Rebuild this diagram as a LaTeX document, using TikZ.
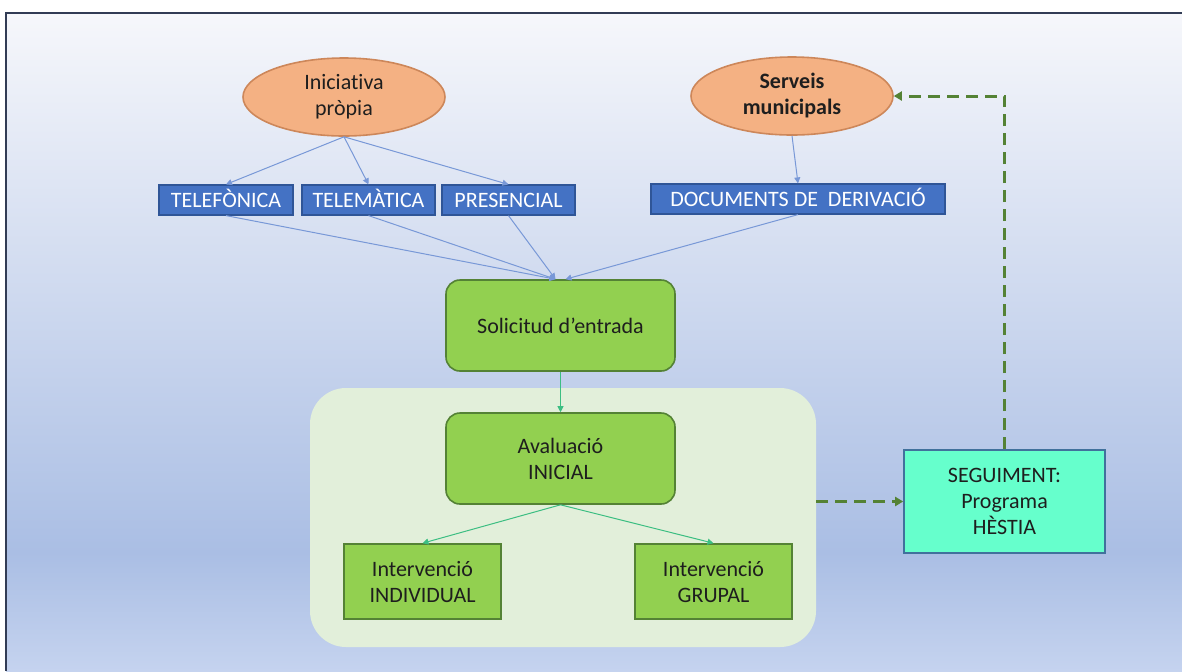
\documentclass[tikz,border=0pt]{standalone}
\usepackage{fontspec}
\setmainfont{Carlito}[Ligatures=NoCommon]
\usetikzlibrary{shapes.geometric,arrows.meta}
\definecolor{peach}{RGB}{244, 177, 131}
\definecolor{peachline}{RGB}{205, 135, 90}
\definecolor{royal}{RGB}{68, 114, 196}
\definecolor{royalline}{RGB}{47, 85, 151}
\definecolor{lime}{RGB}{146, 208, 80}
\definecolor{limeline}{RGB}{84, 130, 53}
\definecolor{mint}{RGB}{102, 255, 204}
\definecolor{mintline}{RGB}{65, 113, 156}
\definecolor{pale}{RGB}{226, 239, 218}
\definecolor{olive}{RGB}{84, 130, 53}
\definecolor{sky}{RGB}{120, 152, 215}
\definecolor{jade}{RGB}{60, 190, 130}
\definecolor{ink}{RGB}{30, 30, 30}
\definecolor{bgtop}{RGB}{246, 247, 251}
\definecolor{bgmid}{RGB}{170, 190, 228}
\definecolor{bgbot}{RGB}{197, 211, 239}
\definecolor{edge}{RGB}{50, 60, 85}
\pgfdeclareverticalshading{backdrop}{100bp}{color(0bp)=(bgbot); color(25bp)=(bgbot); color(34bp)=(bgmid); color(75bp)=(bgtop); color(100bp)=(bgtop)}

\tikzset{
    source/.style   = {ellipse, draw=peachline, fill=peach, thick, text=ink, align=center,
                       minimum width=101pt, minimum height=39pt, inner sep=0pt},
    channel/.style  = {rectangle, draw=royalline, fill=royal, text=white, semithick,
                       minimum height=15pt, inner sep=0pt, text height=7.5pt, text depth=0pt},
    stagebox/.style = {rectangle, rounded corners=7pt, draw=limeline, fill=lime, thick, text=ink,
                       align=center, minimum width=114.5pt, minimum height=45.5pt},
    action/.style   = {rectangle, draw=limeline, fill=lime, thick, text=ink, align=center,
                       minimum width=78.5pt, minimum height=37.5pt},
    followup/.style = {rectangle, draw=mintline, fill=mint, thick, text=ink, align=center,
                       minimum width=100.5pt, minimum height=51.5pt},
    feed/.style     = {-{Triangle[length=3pt, width=3pt]}, sky, line width=0.5pt},
    flow/.style     = {-{Triangle[length=3pt, width=3pt]}, jade, line width=0.5pt},
    backlink/.style = {-{Triangle[length=4pt, width=4.5pt]}, olive, line width=1.5pt,
                       dash pattern=on 6pt off 3.5pt}
}

\begin{document}
\begin{tikzpicture}[x=0.5pt, y=-0.5pt, font=\fontsize{11}{13}\selectfont]
    \useasboundingbox (0, 0) rectangle (1182, 671);
    \fill[white] (0, 0) rectangle (1182, 671);
    \shade[shading=backdrop] (6, 13) rectangle (1182, 671);
    \draw[edge, line width=1pt] (6, 671) -- (6, 13) -- (1182, 13);

    \fill[pale, rounded corners=18pt] (310, 388) rectangle (816, 647);

    \node[source]                         (ini) at ( 344.0,  97.0) {Iniciativa\\pròpia};
    \node[source, font=\fontsize{11}{13}\selectfont\bfseries]
                                          (srv) at ( 792.0,  96.0) {Serveis\\municipals};
    \node[channel, minimum width=67pt]    (tel) at ( 226.0, 200.0) {TELEFÒNICA};
    \node[channel, minimum width=66.5pt]  (tmt) at ( 368.5, 200.0) {TELEMÀTICA};
    \node[channel, minimum width=66.5pt]  (pre) at ( 508.5, 200.0) {PRESENCIAL};
    \node[channel, minimum width=147pt]   (doc) at ( 798.0, 199.0) {DOCUMENTS DE\ \ DERIVACIÓ};
    \node[stagebox]                       (sol) at ( 560.5, 325.5) {Solicitud d’entrada};
    \node[stagebox]                       (ava) at ( 560.5, 458.5) {Avaluació\\INICIAL};
    \node[action]                         (ind) at ( 422.5, 581.5) {Intervenció\\INDIVIDUAL};
    \node[action]                         (grp) at ( 713.5, 581.5) {Intervenció\\GRUPAL};
    \node[followup]                       (seg) at (1004.5, 501.5) {SEGUIMENT:\\Programa\\HÈSTIA};
    \coordinate                           (pan) at ( 816.0, 501.5);

    \draw[feed] (ini.south) -- (tel.north);
    \draw[feed] (ini.south) -- (tmt.north);
    \draw[feed] (ini.south) -- (pre.north);
    \draw[feed] (srv.south) -- (doc.north);
    \draw[feed] (tel.south) -- ([xshift=-2.5pt]sol.north);
    \draw[feed] (tmt.south) -- ([xshift=-2.5pt]sol.north);
    \draw[feed] (pre.south) -- ([xshift=-2.5pt]sol.north);
    \draw[feed] (doc.south) -- ([xshift=2.5pt]sol.north);

    \draw[flow] (sol.south) -- (ava.north);
    \draw[flow] (ava.south) -- (ind.north);
    \draw[flow] (ava.south) -- (grp.north);

    \draw[backlink] (pan) -- (seg.west);
    \draw[backlink] (seg.north) |- (srv.east);
\end{tikzpicture}
\end{document}
